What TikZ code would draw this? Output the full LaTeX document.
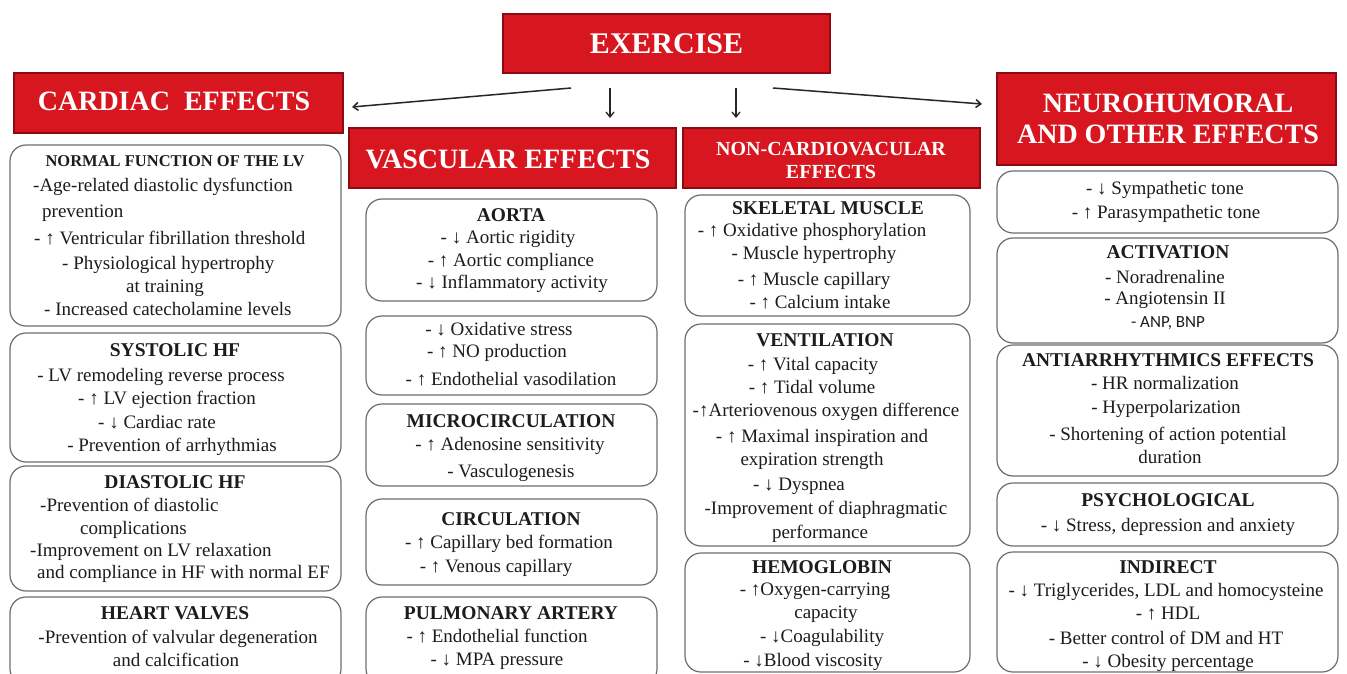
\documentclass[tikz,border=0pt]{standalone}
\usepackage{fontspec}
\setmainfont{Liberation Serif}
\newfontfamily\carl{Carlito}
\usetikzlibrary{arrows.meta,fit}
\definecolor{exred}{RGB}{216,22,32}
\definecolor{exdark}{RGB}{140,10,18}
\definecolor{boxgray}{RGB}{110,110,110}
\definecolor{txtc}{RGB}{28,28,28}
\newcommand\Lc[3]{\node[bt] (#1) at (#2) {#3};}
\newcommand\Lw[3]{\node[bt,anchor=mid west] (#1) at (#2) {#3};}
\newcommand\Tc[3]{\node[tt] (#1) at (#2) {#3};}
\newcommand\Bx[3]{\node[rbox,fit={(#2) (#3)}] (#1) {};}
\newcommand\Hd[3]{\node[hdr,fit={(#2) (#3)}] (#1) {};}
\begin{document}
\begin{tikzpicture}[x=1pt,y=-1pt,
  hdr/.style={fill=exred,draw=exdark,line width=1.3pt,inner sep=0pt},
  htx/.style={text=white,font=\fontsize{28}{30}\selectfont\bfseries,inner sep=0pt,align=center},
  rbox/.style={draw=boxgray,line width=1.2pt,rounded corners=16pt,inner sep=0pt},
  bt/.style={text=txtc,font=\fontsize{19}{22}\selectfont,inner sep=0pt,anchor=mid,yshift=-3pt},
  tt/.style={text=txtc,font=\fontsize{19.5}{22}\selectfont\bfseries,inner sep=0pt,anchor=mid,yshift=-3pt},
  arr/.style={line width=1.5pt,draw=black!85,-{Straight Barb[length=5pt,width=8pt]}}]
\useasboundingbox (0,0) rectangle (1347,674);
\fill[white] (0,0) rectangle (1347,674);

% headers
\Hd{ex}{503,14}{830,73}
\node[htx,font=\fontsize{30}{32}\selectfont\bfseries] (ext) at (ex.center) {EXERCISE};
\Hd{card}{14,73}{343,133}
\node[htx] (cardt) at (174,101) {CARDIAC\ \ EFFECTS};
\Hd{vasc}{349,128}{676,188}
\node[htx] (vasct) at (508,159) {VASCULAR EFFECTS};
\Hd{ncv}{683,128}{980,188}
\node[htx,font=\fontsize{20}{23}\selectfont\bfseries] (ncvt) at (831,160) {NON-CARDIOVACULAR\\EFFECTS};
\Hd{neu}{997,73}{1336,165}
\node[htx,font=\fontsize{28}{31}\selectfont\bfseries] (neut) at (1168,119) {NEUROHUMORAL\\AND OTHER EFFECTS};

% arrows
\coordinate (s1) at (571,88);
\coordinate (e1) at (352,107);
\coordinate (s2) at (610,88);
\coordinate (e2) at (610,118);
\coordinate (s3) at (736,88);
\coordinate (e3) at (736,118);
\coordinate (s4) at (773,88);
\coordinate (e4) at (982,104);
\draw[arr] (s1) -- (e1);
\draw[arr,line width=1.3pt] (s2) -- (e2);
\draw[arr,line width=1.3pt] (s3) -- (e3);
\draw[arr] (s4) -- (e4);

% column 1
\Bx{c1a}{10,145}{341,326}
\node[tt,font=\fontsize{16.5}{20}\selectfont\bfseries] (c1a0) at (175,161) {NORMAL FUNCTION OF THE LV};
\Lw{c1a1}{33,186}{-Age-related diastolic dysfunction}
\Lw{c1a2}{42,212}{prevention}
\Lw{c1a3}{34,239}{- ↑ Ventricular fibrillation threshold}
\Lw{c1a4}{62,264}{- Physiological hypertrophy}
\Lc{c1a5}{165,287}{at training}
\Lw{c1a6}{44,310}{- Increased catecholamine levels}

\Bx{c1b}{10,333}{341,462}
\Tc{c1b0}{175,351}{SYSTOLIC HF}
\Lc{c1b1}{161,376}{- LV remodeling reverse process}
\Lc{c1b2}{167,399}{- ↑ LV ejection fraction}
\Lc{c1b3}{157,423}{- ↓ Cardiac rate}
\Lc{c1b4}{172,446}{- Prevention of arrhythmias}

\Bx{c1c}{10,466}{341,591}
\Tc{c1c0}{175,483}{DIASTOLIC HF}
\Lw{c1c1}{40,506}{-Prevention of diastolic}
\Lw{c1c2}{80,529}{complications}
\Lw{c1c3}{30,551}{-Improvement on LV relaxation}
\Lw{c1c4}{37,573}{and compliance in HF with normal EF}

\Bx{c1d}{10,597}{341,685}
\Tc{c1d0}{175,614}{HEART VALVES}
\Lc{c1d1}{178,638}{-Prevention of valvular degeneration}
\Lc{c1d2}{176,661}{and calcification}

% column 2
\Bx{c2a}{366,199}{657,301}
\Tc{c2a0}{511,216}{AORTA}
\Lc{c2a1}{508,238}{- ↓ Aortic rigidity}
\Lc{c2a2}{511,261}{- ↑ Aortic compliance}
\Lc{c2a3}{512,283}{- ↓ Inflammatory activity}

\Bx{c2b}{366,316}{657,395}
\Lc{c2b1}{499,330}{- ↓ Oxidative stress}
\Lc{c2b2}{497,352}{- ↑ NO production}
\Lc{c2b3}{511,380}{- ↑ Endothelial vasodilation}

\Bx{c2c}{366,404}{657,486}
\Tc{c2c0}{511,422}{MICROCIRCULATION}
\Lc{c2c1}{510,445}{- ↑ Adenosine sensitivity}
\Lc{c2c2}{511,472}{- Vasculogenesis}

\Bx{c2d}{366,499}{657,585}
\Tc{c2d0}{511,520}{CIRCULATION}
\Lc{c2d1}{509,543}{- ↑ Capillary bed formation}
\Lc{c2d2}{496,567}{- ↑ Venous capillary}

\Bx{c2e}{366,597}{657,685}
\Tc{c2e0}{511,614}{PULMONARY ARTERY}
\Lc{c2e1}{497,637}{- ↑ Endothelial function}
\Lc{c2e2}{497,660}{- ↓ MPA pressure}

% column 3
\Bx{c3a}{685,195}{970,316}
\Tc{c3a0}{828,209}{SKELETAL MUSCLE}
\Lc{c3a1}{812,231}{- ↑ Oxidative phosphorylation}
\Lc{c3a2}{814,254}{- Muscle hypertrophy}
\Lc{c3a3}{814,280}{- ↑ Muscle capillary}
\Lc{c3a4}{820,303}{- ↑ Calcium intake}

\Bx{c3b}{685,324}{970,546}
\Tc{c3b0}{825,341}{VENTILATION}
\Lc{c3b1}{813,365}{- ↑ Vital capacity}
\Lc{c3b2}{812,388}{- ↑ Tidal volume}
\Lc{c3b3}{826,411}{-↑Arteriovenous oxygen difference}
\Lc{c3b4}{822,437}{- ↑ Maximal inspiration and}
\Lc{c3b5}{812,460}{expiration strength}
\Lc{c3b6}{799,485}{- ↓ Dyspnea}
\Lc{c3b7}{826,509}{-Improvement of diaphragmatic}
\Lc{c3b8}{820,533}{performance}

\Bx{c3c}{685,553}{970,672}
\Tc{c3c0}{822,568}{HEMOGLOBIN}
\Lc{c3c1}{815,590}{- ↑Oxygen-carrying}
\Lc{c3c2}{826,613}{capacity}
\Lc{c3c3}{822,637}{- ↓Coagulability}
\Lc{c3c4}{813,661}{- ↓Blood viscosity}

% column 4
\Bx{c4a}{997,171}{1338,233}
\Lc{c4a1}{1165,189}{- ↓ Sympathetic tone}
\Lc{c4a2}{1166,213}{- ↑ Parasympathetic tone}

\Bx{c4b}{997,238}{1338,343}
\Tc{c4b0}{1168,253}{ACTIVATION}
\Lc{c4b1}{1165,278}{- Noradrenaline}
\Lc{c4b2}{1165,299}{- Angiotensin II}
\node[bt,font=\carl\fontsize{17}{20}\selectfont] (c4b3) at (1168,322) {- ANP, BNP};

\Bx{c4c}{997,345}{1338,476}
\Tc{c4c0}{1168,361}{ANTIARRHYTHMICS EFFECTS}
\Lc{c4c1}{1165,384}{- HR normalization}
\Lc{c4c2}{1166,408}{- Hyperpolarization}
\Lc{c4c3}{1168,435}{- Shortening of action potential}
\Lc{c4c4}{1170,458}{duration}

\Bx{c4d}{997,483}{1338,546}
\Tc{c4d0}{1168,501}{PSYCHOLOGICAL}
\Lc{c4d1}{1168,526}{- ↓ Stress, depression and anxiety}

\Bx{c4e}{997,552}{1338,672}
\Tc{c4e0}{1168,568}{INDIRECT}
\Lc{c4e1}{1166,591}{- ↓ Triglycerides, LDL and homocysteine}
\Lc{c4e2}{1168,614}{- ↑ HDL}
\Lc{c4e3}{1166,639}{- Better control of DM and HT}
\Lc{c4e4}{1168,662}{- ↓ Obesity percentage}
\end{tikzpicture}
\end{document}
